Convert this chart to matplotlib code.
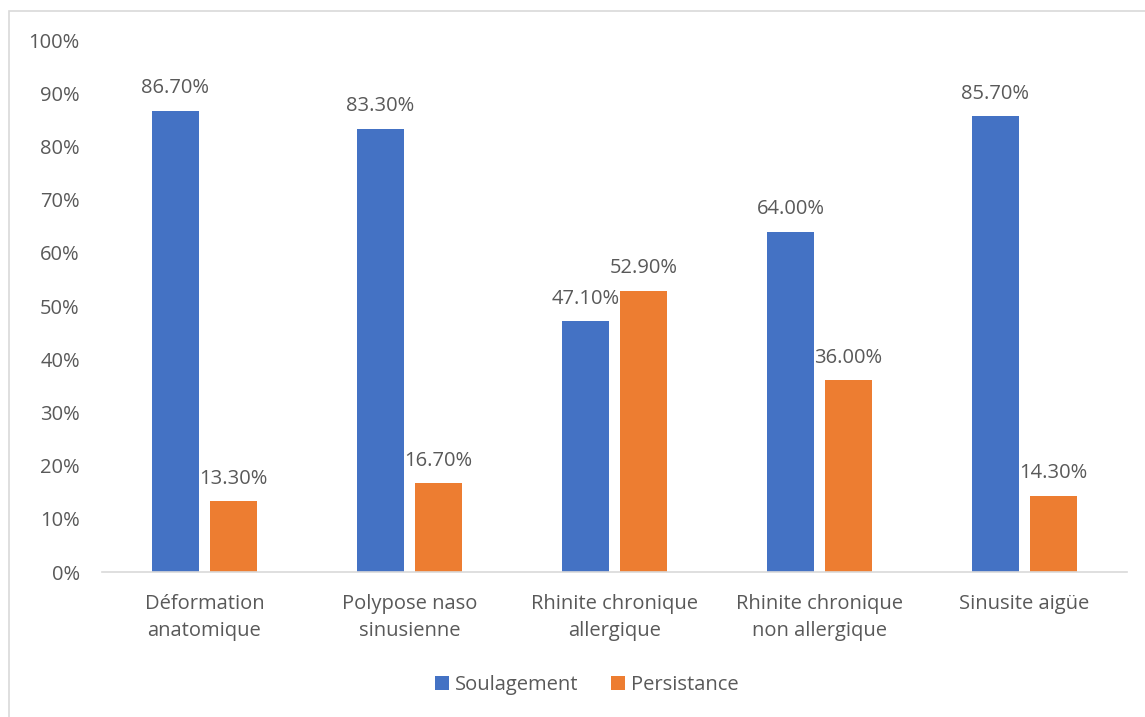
import matplotlib.pyplot as plt
import matplotlib.patches as mpatches
import numpy as np

plt.rcParams["font.family"] = ["Open Sans", "DejaVu Sans"]

categories = ["Déformation\nanatomique", "Polypose naso\nsinusienne", "Rhinite chronique\nallergique",
              "Rhinite chronique\nnon allergique", "Sinusite aigüe"]
soulagement = [86.7, 83.3, 47.1, 64.0, 85.7]
persistance = [13.3, 16.7, 52.9, 36.0, 14.3]
yticks = [0, 10, 20, 30, 40, 50, 60, 70, 80, 90, 100]

text_color = "#595959"
blue = "#4472C4"
orange = "#ED7D31"

W, H = 1145, 717
fig = plt.figure(figsize=(W / 100, H / 100), dpi=100)

# chart border (only top and left visible in the reference)
fig.patches.append(mpatches.Rectangle((9 / W, -0.05), 1.2, 1 - 11 / H + 0.05, transform=fig.transFigure,
                                      fill=False, edgecolor="#D9D9D9", linewidth=1.2))

ax = fig.add_axes([102 / W, 1 - 572 / H, (1127 - 102) / W, (572 - 40) / H])

x = np.arange(len(categories))
bw = 0.23
off = 0.142
b1 = ax.bar(x - off, soulagement, bw, color=blue, label="Soulagement")
b2 = ax.bar(x + off, persistance, bw, color=orange, label="Persistance")

for bars, vals in [(b1, soulagement), (b2, persistance)]:
    for bar, v in zip(bars, vals):
        ax.annotate(f"{v:.2f}%", (bar.get_x() + bar.get_width() / 2, v), xytext=(0, 9),
                    textcoords="offset points", ha="center", va="bottom", fontsize=14.5, color=text_color)

ax.set_xlim(-0.5, len(categories) - 0.5)
ax.set_ylim(0, 100)
ax.set_yticks(yticks)
ax.set_yticklabels([f"{t}%" for t in yticks])
ax.set_xticks(x)
ax.set_xticklabels(categories)
for lbl in ax.get_xticklabels():
    lbl.set_linespacing(1.45)
ax.tick_params(axis="both", length=0, labelsize=14.5, labelcolor=text_color)
ax.tick_params(axis="y", pad=16)
ax.tick_params(axis="x", pad=16)
for s in ["top", "right", "left"]:
    ax.spines[s].set_visible(False)
ax.spines["bottom"].set_color("#D9D9D9")
ax.spines["bottom"].set_linewidth(1.2)

fig.legend(handles=[b1, b2], loc="center", bbox_to_anchor=(587 / W, 1 - 685 / H), ncol=2, frameon=False,
           fontsize=14.5, labelcolor=text_color, handlelength=0.7, handleheight=0.7, handletextpad=0.3,
           columnspacing=1.6)

fig.savefig("out.png", dpi=100)
